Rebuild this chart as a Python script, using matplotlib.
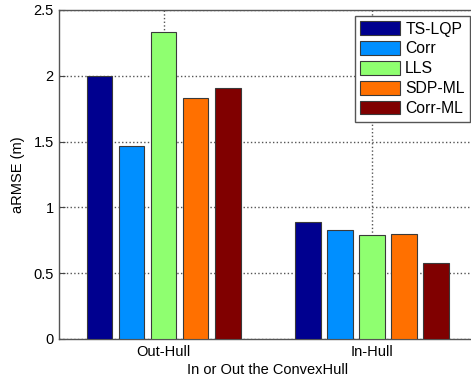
import matplotlib
matplotlib.use('Agg')
import matplotlib.pyplot as plt
import numpy as np

plt.rcParams['font.family'] = ['Liberation Sans', 'DejaVu Sans']

groups = ['Out-Hull', 'In-Hull']
methods = ['TS-LQP', 'Corr', 'LLS', 'SDP-ML', 'Corr-ML']
armse = {
    'TS-LQP': [2.00, 0.89],
    'Corr': [1.47, 0.83],
    'LLS': [2.33, 0.79],
    'SDP-ML': [1.83, 0.80],
    'Corr-ML': [1.91, 0.58],
}
colors = ['#00008f', '#008fff', '#8fff70', '#ff7000', '#800000']

fig = plt.figure(figsize=(4.71, 3.83), dpi=100)
# right edge of the axes sits just past the figure border
ax = fig.add_axes([0.126, 0.115, 0.885, 0.859])

x = np.arange(1, len(groups) + 1)
n = len(methods)
group_w = n / (n + 1.5)
step = group_w / n
for i, (m, c) in enumerate(zip(methods, colors)):
    off = (i - (n - 1) / 2) * step
    ax.bar(x + off, armse[m], width=0.8 * step, color=c, edgecolor='#3a3a3a',
           linewidth=0.8, label=m, zorder=3)

ax.set_xlim(0.5, 2.5)
ax.set_ylim(0, 2.5)
ax.set_xticks(x)
ax.set_xticklabels(groups)
ax.set_yticks([0, 0.5, 1, 1.5, 2, 2.5])
ax.set_yticklabels(['0', '0.5', '1', '1.5', '2', '2.5'])
ax.tick_params(direction='in', length=4, labelsize=10.5, color='#444444', pad=4)
ax.grid(True, linestyle=':', color='#555555', linewidth=1.0, zorder=0)
for s in ax.spines.values():
    s.set_color('#555555')
    s.set_linewidth(1.0)

ax.set_xlabel('In or Out the ConvexHull', fontsize=10.5, labelpad=3)
ax.set_ylabel('aRMSE (m)', fontsize=10.5, labelpad=6)

leg = ax.legend(loc='upper right', bbox_to_anchor=(0.9856, 0.982), borderaxespad=0,
                fontsize=11.3, fancybox=False, framealpha=1, edgecolor='#555555',
                handlelength=2.5, handleheight=0.95, handletextpad=0.35,
                labelspacing=0.3, borderpad=0.35)
leg.get_frame().set_linewidth(1.0)

fig.savefig('out.png', dpi=100)
